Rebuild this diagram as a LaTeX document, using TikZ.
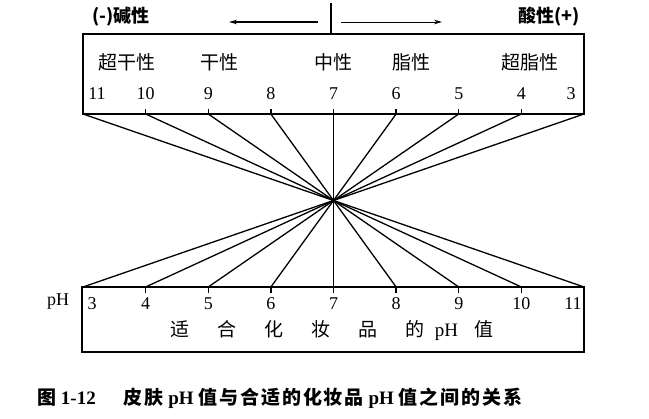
\documentclass[tikz,border=0pt]{standalone}
\usepackage{fontspec}
\setmainfont{Liberation Serif}
\newfontfamily\cjk{Noto Sans CJK SC}
\newfontfamily\cjkcap[LetterSpace=10]{Noto Sans CJK SC}
\usetikzlibrary{arrows.meta}
\begin{document}
\begin{tikzpicture}[x=1pt,y=-1pt,
  boxframe/.style={draw,line width=1.8pt,inner sep=0pt},
  ray/.style={line width=1.3pt},
  tick/.style={line width=1.3pt},
  num/.style={font=\fontsize{18}{18}\selectfont,inner sep=0pt,anchor=base},
  cat/.style={font=\cjk\fontsize{19}{19}\selectfont,inner sep=0pt},
  head/.style={-{Stealth[length=8pt,width=4.5pt]}}
]
\useasboundingbox (0,0) rectangle (649,419);
% boxes
\node[boxframe,minimum width=501pt,minimum height=80pt] (topbox) at (333.5,74) {};
\node[boxframe,minimum width=502pt,minimum height=65pt] (botbox) at (333,319.5) {};
% tick coordinates
\foreach \v [count=\k from 0] in {11,10,9,8,7,6,5,4,3}{
  \coordinate (t\v) at ({83+\k*62.625},114);
  \coordinate (b\v) at ({584-\k*62.625},287);
}
\coordinate (rowt) at (0,100);
\coordinate (rowb) at (0,310);
% rays
\foreach \v in {11,10,9,8,7,6,5,4,3}{
  \draw[ray] (t\v) -- (b\v);
}
% ticks
\foreach \v in {10,9,8,7,6,5,4}{
  \draw[tick] (t\v) -- ++(0,-5);
  \draw[tick] (b\v) -- ++(0,6);
}
% top numbers
\node[num] (n11) at (97,100) {11};
\foreach \v in {10,9,8,7,6,5,4}{
  \node[num] (nt\v) at (t\v |- rowt) {\v};
}
\node[num] (n3) at (571,100) {3};
% bottom numbers
\node[num] (m3) at (92,310) {3};
\foreach \v in {4,5,6,7,8,9,10}{
  \node[num] (nb\v) at (b\v |- rowb) {\v};
}
\node[num] (m11) at (573,310) {11};
\node[num] (ph) at (58,306) {pH};
% categories
\node[cat] (k1) at (127,62) {超干性};
\node[cat] (k2) at (219,62) {干性};
\node[cat] (k3) at (333,62) {中性};
\node[cat] (k4) at (411,62) {脂性};
\node[cat] (k5) at (530,62) {超脂性};
% bottom title
\node[cat] (bt) at (332,331) {适\hspace{28pt}合\hspace{28pt}化\hspace{28pt}妆\hspace{28pt}品\hspace{28pt}的\hspace{10pt}{\rmfamily pH}\hspace{16pt}值};
% top arrows
\draw[line width=1.4pt] (331,3) -- (331,34);
\coordinate (la) at (318,22);
\coordinate (lb) at (229,22);
\coordinate (ra) at (341,22);
\coordinate (rb) at (442,22);
\draw[line width=1.5pt,head] (la) -- (lb);
\draw[line width=0.9pt,head] (ra) -- (rb);
\node[cat,anchor=west,font=\cjk\bfseries\fontsize{18}{18}\selectfont] (alk) at (92,17) {(-)碱性};
\node[cat,anchor=east,font=\cjk\bfseries\fontsize{18}{18}\selectfont] (acid) at (580,17) {酸性(+)};
% caption
\node[anchor=west,inner sep=0pt,font=\fontsize{19}{19}\selectfont\bfseries] (cap) at (37,398)
  {{\cjk\bfseries 图} 1-12\hspace{28pt}{\cjkcap\bfseries 皮肤} pH {\cjkcap\bfseries 值与合适的化妆品} pH {\cjkcap\bfseries 值之间的关系}};
\end{tikzpicture}
\end{document}
